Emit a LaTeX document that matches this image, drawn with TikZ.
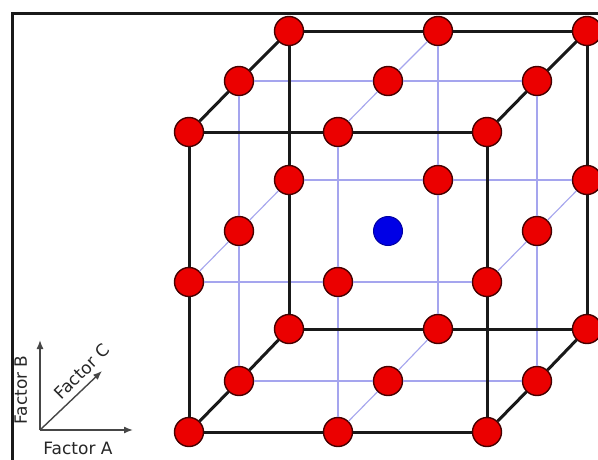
\documentclass[tikz,border=0pt]{standalone}
\usepackage{fontspec}
\setmainfont{DejaVu Sans}
\usetikzlibrary{arrows.meta}
\definecolor{ptfill}{RGB}{235,0,0}
\definecolor{ptrim}{RGB}{70,0,0}
\definecolor{ctfill}{RGB}{0,0,230}
\definecolor{gridblue}{RGB}{165,165,238}
\definecolor{axisgray}{RGB}{70,70,70}

\begin{document}
\begin{tikzpicture}[x=1pt, y=-1pt,
  pt/.style={circle, draw=ptrim, fill=ptfill, line width=1.4pt, minimum size=29pt, inner sep=0pt},
  ctr/.style={circle, draw=ctfill!70!black, fill=ctfill, line width=1pt, minimum size=29pt, inner sep=0pt},
  edge/.style={line width=3pt, black!90},
  inner/.style={line width=1.1pt, gridblue},
  axis/.style={line width=1.4pt, axisgray, -{Latex[length=9pt, width=7pt]}},
  lbl/.style={font=\fontsize{17}{17}\selectfont, anchor=base, text=black!85}]
\clip (0,0) rectangle (598,459);
\fill[white] (0,0) rectangle (598,459);
\draw[line width=3pt, black!90] (12,13) rectangle (660,520);

% front layer (Factor C low)
\node[pt] (p000) at (189,432) {};
\node[pt] (p100) at (338,432) {};
\node[pt] (p200) at (487,432) {};
\node[pt] (p010) at (189,282) {};
\node[pt] (p110) at (338,282) {};
\node[pt] (p210) at (487,282) {};
\node[pt] (p020) at (189,132) {};
\node[pt] (p120) at (338,132) {};
\node[pt] (p220) at (487,132) {};
% middle layer
\node[pt] (p001) at (239,381) {};
\node[pt] (p101) at (388,381) {};
\node[pt] (p201) at (537,381) {};
\node[pt] (p011) at (239,231) {};
\node[ctr] (p111) at (388,231) {};
\node[pt] (p211) at (537,231) {};
\node[pt] (p021) at (239,81) {};
\node[pt] (p121) at (388,81) {};
\node[pt] (p221) at (537,81) {};
% back layer (Factor C high)
\node[pt] (p002) at (289,329) {};
\node[pt] (p102) at (438,329) {};
\node[pt] (p202) at (587,329) {};
\node[pt] (p012) at (289,180) {};
\node[pt] (p112) at (438,180) {};
\node[pt] (p212) at (587,180) {};
\node[pt] (p022) at (289,31) {};
\node[pt] (p122) at (438,31) {};
\node[pt] (p222) at (587,31) {};

% face grid lines
\draw[inner] (p100) -- (p110) -- (p120);
\draw[inner] (p010) -- (p110) -- (p210);
\draw[inner] (p102) -- (p112) -- (p122);
\draw[inner] (p012) -- (p112) -- (p212);
\draw[inner] (p021) -- (p121) -- (p221);
\draw[inner] (p120) -- (p121) -- (p122);
\draw[inner] (p001) -- (p101) -- (p201);
\draw[inner] (p100) -- (p101) -- (p102);
\draw[inner] (p001) -- (p011) -- (p021);
\draw[inner] (p010) -- (p011) -- (p012);
\draw[inner] (p201) -- (p211) -- (p221);
\draw[inner] (p210) -- (p211) -- (p212);

% cube edges
\draw[edge] (p000) -- (p100) -- (p200) -- (p210) -- (p220) -- (p120) -- (p020) -- (p010) -- (p000);
\draw[edge] (p002) -- (p102) -- (p202) -- (p212) -- (p222) -- (p122) -- (p022) -- (p012) -- (p002);
\draw[edge] (p000) -- (p001) -- (p002);
\draw[edge] (p200) -- (p201) -- (p202);
\draw[edge] (p220) -- (p221) -- (p222);
\draw[edge] (p020) -- (p021) -- (p022);

% factor axes
\coordinate (orig) at (40,430);
\coordinate (tipA) at (133,430);
\coordinate (tipB) at (40,340);
\coordinate (tipC) at (102,371);
\draw[axis] (orig) -- (tipA);
\draw[axis] (orig) -- (tipB);
\draw[axis] (orig) -- (tipC);
\node[lbl] (labA) at (78,454) {Factor A};
\node[lbl, rotate=90] (labB) at (27,390) {Factor B};
\node[lbl, rotate=45] (labC) at (86,376) {Factor C};
\end{tikzpicture}
\end{document}
